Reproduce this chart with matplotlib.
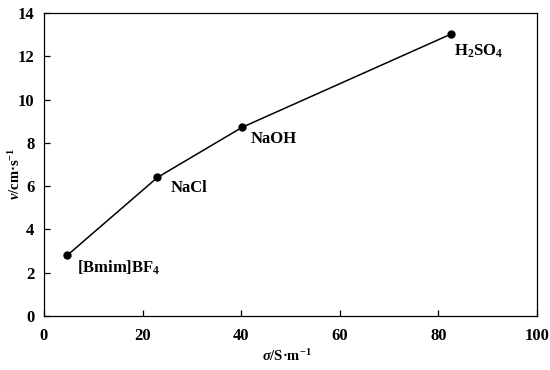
import matplotlib
matplotlib.use("Agg")
import matplotlib.pyplot as plt

conductivity = [4.7, 23.0, 40.2, 82.5]
velocity = [2.8, 6.4, 8.72, 13.02]
names = ["[Bmim]BF$_4$", "NaCl", "NaOH", "H$_2$SO$_4$"]
offsets = [(7.2, -8.6), (9.4, -7.9), (5.8, -8.6), (2.2, -12.5)]

plt.rcParams["font.family"] = "Liberation Serif"
plt.rcParams["font.weight"] = "bold"
plt.rcParams["axes.labelweight"] = "bold"
plt.rcParams["mathtext.fontset"] = "custom"
plt.rcParams["mathtext.rm"] = "Liberation Serif:bold"
plt.rcParams["mathtext.it"] = "Liberation Serif:italic:bold"
plt.rcParams["mathtext.bf"] = "Liberation Serif:bold"
plt.rcParams["mathtext.default"] = "rm"

fig = plt.figure(figsize=(5.5, 3.7), dpi=100)
ax = fig.add_axes([44/550, 1 - 316/370, (537-44)/550, (316-13)/370])

ax.plot(conductivity, velocity, color="black", lw=1.1, marker="o", ms=5)
for x, y, n, off in zip(conductivity, velocity, names, offsets):
    ax.annotate(n, (x, y), xytext=off, textcoords="offset points",
                ha="left", va="center", fontsize=12, fontweight="bold")

ax.set_xlim(0, 100)
ax.set_ylim(0, 14)
ax.set_xticks(range(0, 101, 20))
ax.set_yticks(range(0, 15, 2))
ax.tick_params(direction="in", length=4, width=0.9, labelsize=12)
ax.tick_params(axis="x", pad=9)
ax.tick_params(axis="y", pad=7)
for lbl in ax.get_xticklabels() + ax.get_yticklabels():
    lbl.set_fontweight("bold")
for s in ax.spines.values():
    s.set_linewidth(0.9)

ax.set_xlabel(r"$\mathit{\sigma}$/S·m$^{-1}$", fontsize=10.5, fontweight="bold", va="center")
ax.set_ylabel(r"$\mathit{v}$/cm·s$^{-1}$", fontsize=10.5, fontweight="bold", va="center")
ax.xaxis.set_label_coords(0.493, -0.132)
ax.yaxis.set_label_coords(-0.059, 0.47)

fig.savefig("out.png", dpi=100)
